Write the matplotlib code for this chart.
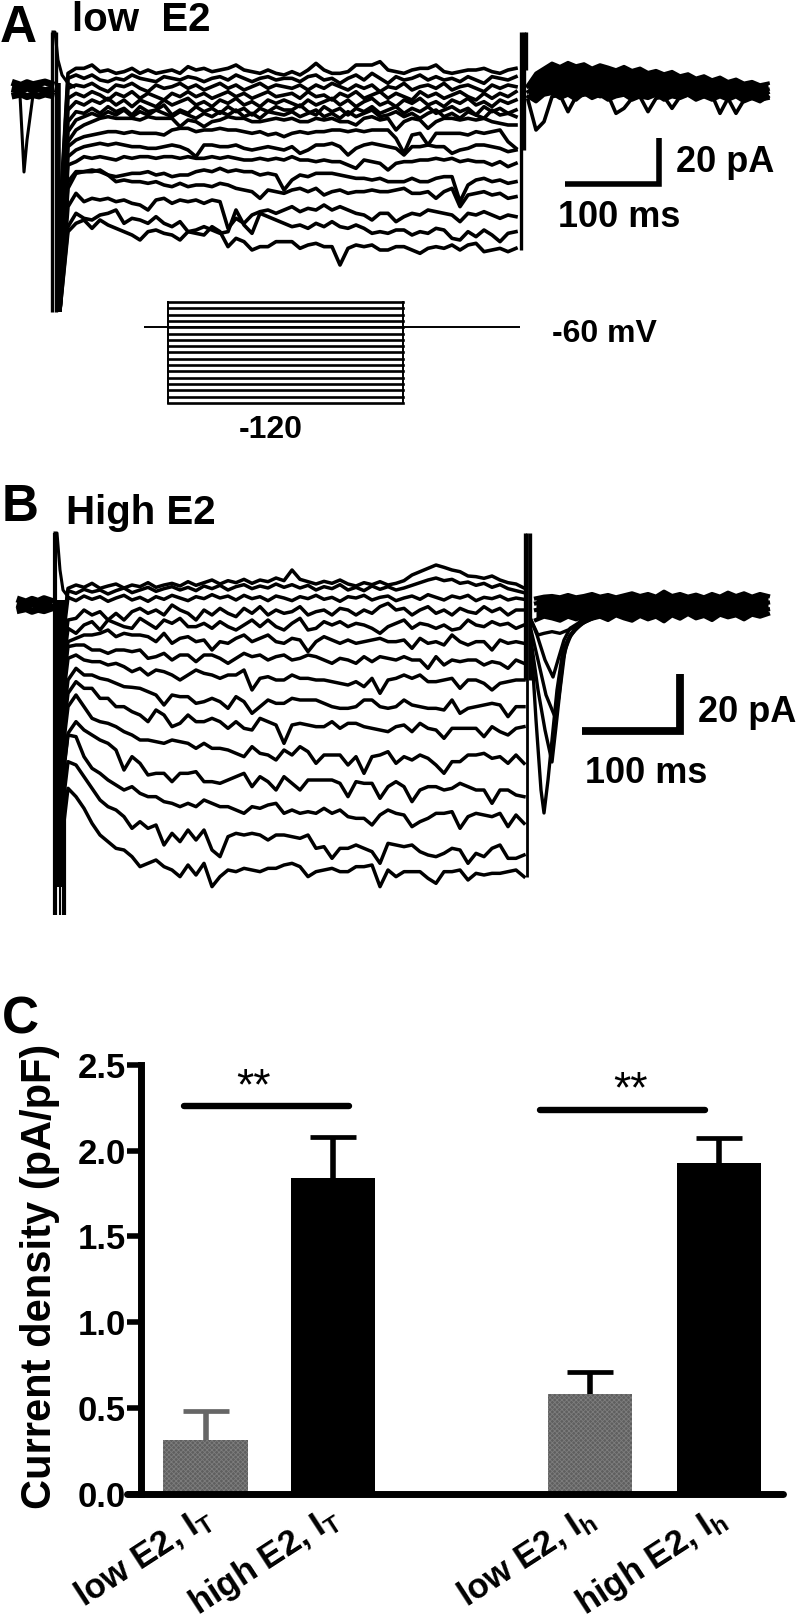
import matplotlib
matplotlib.use('Agg')
import matplotlib.pyplot as plt
import numpy as np

plt.rcParams['font.family'] = ['Liberation Sans', 'DejaVu Sans']
plt.rcParams['font.weight'] = 'bold'
plt.rcParams['mathtext.fontset'] = 'custom'
plt.rcParams['mathtext.bf'] = 'Liberation Sans:bold'
plt.rcParams['hatch.linewidth'] = 0.6

W, H = 797, 1619

# traces: x in image pixels, raw = 3 x pixels below the crop origin
# panel A, 16 sweeps
a_x = np.arange(68, 517, 8)
a_trace_01 = [70,55,55,45,65,60,70,65,55,70,60,70,65,60,70,50,60,55,65,60,55,45,60,65,70,60,70,75,
              65,75,60,40,60,70,70,65,45,45,45,35,60,65,70,60,55,55,45,65,70,65,60,60,55,65,70,60,55]
a_trace_02 = [85,75,85,75,90,95,85,90,75,85,90,95,80,85,90,80,85,95,85,80,90,75,85,95,85,80,90,85,
              85,95,80,75,90,85,100,85,75,90,70,85,100,80,90,85,75,90,80,90,85,95,80,90,100,80,85,90,80]
a_trace_03 = [115,105,110,100,115,125,105,110,100,115,125,105,115,110,100,115,105,120,110,100,115,105,120,110,100,115,105,110,
              115,105,120,105,115,100,110,120,105,115,105,125,110,115,100,120,110,105,115,100,120,110,105,115,125,105,115,105,110]
a_trace_04 = [145,130,140,125,135,150,130,140,125,145,130,140,150,130,140,125,140,130,145,135,125,140,130,145,135,125,140,135,
              130,145,125,140,135,150,130,140,125,145,135,125,145,130,140,150,125,140,130,145,135,125,140,150,130,145,130,140,125]
a_trace_05 = [180,155,165,150,160,145,165,150,170,150,160,170,150,165,155,145,165,155,170,150,160,145,165,155,170,150,160,150,
              160,170,150,165,155,145,165,150,170,155,145,165,155,170,150,160,145,165,155,170,150,160,145,165,155,170,150,160,150]
a_trace_06 = [215,185,190,175,190,170,185,175,195,170,185,180,165,195,180,190,170,185,175,190,170,185,175,195,175,185,170,180,
              180,165,185,195,170,185,175,195,175,185,170,190,180,170,190,175,185,170,190,180,170,185,175,195,170,185,175,190,180]
a_trace_07 = [245,210,200,190,200,185,195,180,200,185,195,180,190,200,185,195,205,190,200,185,195,180,200,190,205,185,190,195,
              185,200,190,180,200,190,205,185,200,190,180,200,195,185,200,190,205,190,180,200,190,205,185,195,205,180,195,190,200]
a_trace_08 = [275,240,225,215,205,200,205,205,205,210,200,205,205,205,230,210,215,230,215,210,200,205,205,215,215,210,205,210,
              205,215,215,205,210,205,215,215,225,205,200,210,205,240,215,205,210,235,215,205,205,210,205,210,205,215,220,225,225]
a_trace_09 = [290,270,260,255,250,245,245,250,245,250,250,250,255,240,235,235,245,240,240,235,240,240,245,250,245,255,250,260,
              250,245,250,245,245,240,240,245,240,245,240,240,240,265,310,255,250,285,250,250,250,250,255,245,250,245,240,275,295]
a_trace_10 = [320,300,290,285,280,285,280,285,290,290,295,295,290,285,290,300,320,285,285,290,290,285,295,300,295,290,295,300,
              290,310,300,285,285,280,290,315,295,285,280,285,290,295,315,290,290,285,290,290,310,300,295,285,285,290,295,305,300]
a_trace_11 = [345,335,320,325,320,325,330,320,325,320,320,325,320,320,325,320,325,325,320,325,320,325,330,330,325,330,325,330,
              320,330,330,335,330,335,335,345,355,330,335,340,360,340,335,335,330,330,325,330,325,335,330,335,335,345,335,350,340]
a_trace_12 = [395,365,365,360,365,375,380,375,370,370,365,375,370,380,375,375,365,360,365,355,365,360,365,365,375,370,375,420,
              390,375,380,370,370,370,375,380,385,385,390,385,395,395,395,385,395,395,385,380,380,455,405,390,385,395,390,400,395]
a_trace_13 = [415,370,365,365,360,375,395,390,395,395,400,395,405,410,400,410,405,405,410,400,405,415,420,425,445,420,425,430,
              420,415,425,415,435,425,420,430,425,425,420,425,425,420,415,430,430,425,445,425,415,470,435,430,425,435,430,445,440]
a_trace_14 = [470,430,455,445,450,445,455,450,460,465,480,450,445,460,450,455,450,460,450,455,535,505,520,495,485,480,490,480,
              470,485,475,480,465,480,470,480,490,495,510,490,490,515,500,490,495,480,485,490,495,515,490,495,485,495,505,495,500]
a_trace_15 = [530,490,505,510,495,490,480,520,505,510,520,500,520,530,515,545,540,530,540,550,545,480,525,550,490,500,510,520,
              530,525,535,520,530,515,530,535,525,535,550,545,550,540,540,555,545,550,535,540,565,570,545,560,540,555,575,550,545]
a_trace_16 = [545,520,510,535,510,525,535,545,555,570,545,540,550,555,570,545,550,555,530,545,590,565,575,600,590,590,575,575,
              575,595,585,580,590,590,645,595,585,590,585,600,600,590,590,600,610,595,590,595,585,600,585,580,605,600,595,605,595]
a_traces = [a_trace_01, a_trace_02, a_trace_03, a_trace_04, a_trace_05, a_trace_06, a_trace_07, a_trace_08,
            a_trace_09, a_trace_10, a_trace_11, a_trace_12, a_trace_13, a_trace_14, a_trace_15, a_trace_16]

a_pre_x = np.arange(15, 52, 6)
a_pre_1 = [100,106,98,104,100,96,102]
a_pre_2 = [118,122,114,120,116,122,118]
a_pre_3 = [136,132,140,134,138,132,136]
a_event_x = [20, 24, 27, 33]
a_event = [135, 366, 270, 135]
a_post_x = np.arange(528, 769, 8)
a_post_1 = [105,70,55,40,50,38,48,42,55,45,52,60,50,62,55,68,62,72,65,78,72,85,78,90,82,95,88,100,95,105,100]
a_post_2 = [110,90,80,85,75,90,80,95,85,100,90,105,95,110,100,112,105,118,108,115,110,120,112,118,110,122,115,120,112,124,118]
a_post_3 = [125,110,115,105,120,110,125,115,130,120,125,130,120,135,125,130,122,135,128,130,125,138,128,132,125,135,128,132,125,138,128]
a_post_4 = [150,240,215,140,135,185,140,135,130,140,135,190,175,145,140,185,145,140,175,140,135,145,140,135,190,145,190,150,145,150,145]
a_post_5 = [140,155,135,130,145,135,150,130,145,135,150,140,135,150,140,145,135,150,140,145,135,150,140,150,140,150,140,155,145,155,140]
a_on_x = [53, 55, 58, 62, 68, 74]
a_on = [-54, -54, 30, 75, 100, 110]

# command protocol of panel A
stim_t = [0, 26, 275, 400]
stim_levels = [-120,-115,-110,-105,-100,-95,-90,-85,-80,-75,-70,-65,-60,-55,-50,-45,-40]
stim_hold = -60

# panel B, 15 sweeps
b_x = np.arange(68, 525, 8)
b_trace_01 = [-35,-45,-38,-50,-35,-42,-48,-36,-45,-40,-52,-38,-45,-50,-42,-55,-44,-52,-60,-48,-58,-52,-62,-50,-60,-55,-66,-58,
              -90,-62,-55,-48,-56,-50,-60,-48,-42,-52,-46,-55,-45,-50,-58,-75,-85,-95,-105,-98,-90,-85,-72,-70,-65,-72,-60,-52,-48,-36]
b_trace_02 = [-28,-20,-32,-24,-30,-18,-28,-36,-22,-30,-38,-26,-34,-40,-30,-38,-28,-42,-34,-44,-30,-40,-46,-34,-42,-36,-48,-38,
              -46,-36,-44,-30,-40,-34,-46,-30,-38,-28,-42,-32,-40,-30,-36,-44,-52,-60,-66,-58,-62,-50,-54,-44,-50,-38,-46,-34,-28,-22]
b_trace_03 = [-8,2,-12,-2,-10,4,-6,-14,0,-8,4,-10,-2,-14,-6,2,-10,-4,-16,-6,-12,0,-14,-4,-10,2,-12,-6,
              2,-10,-4,-14,-2,-8,4,-10,-6,-14,0,-8,-12,2,-6,-12,-2,-16,-8,0,-12,-6,-14,2,-8,-4,-12,0,-6,-2]
b_trace_04 = [60,55,30,45,35,60,40,60,35,25,40,30,45,15,30,40,60,30,45,25,40,50,25,40,20,45,30,40,
              35,20,45,35,30,45,25,30,45,30,40,20,10,30,25,45,30,20,40,30,45,25,35,40,20,35,25,45,30,30]
b_trace_05 = [85,100,75,65,90,60,70,80,85,55,70,85,60,70,55,80,80,70,85,65,80,90,75,60,80,60,80,90,
              70,55,90,85,65,75,65,80,70,75,85,100,80,70,60,85,70,75,85,75,90,85,60,75,80,65,75,70,85,75]
b_trace_06 = [125,115,105,105,100,90,110,100,105,105,110,125,100,130,115,110,125,120,150,125,130,115,105,125,115,105,125,130,
              115,120,155,125,110,120,130,120,130,125,120,115,125,125,120,145,115,130,125,135,105,125,135,125,125,150,120,130,125,130]
b_trace_07 = [140,135,135,150,150,160,150,150,155,150,175,170,160,180,165,165,185,165,165,175,190,175,160,170,165,180,170,165,
              180,175,165,170,180,190,175,180,190,170,185,170,175,180,170,180,180,205,170,195,180,185,180,180,195,185,190,205,180,190]
b_trace_08 = [175,165,180,185,185,195,190,200,215,205,225,210,215,225,240,225,210,220,225,235,225,225,210,270,235,230,240,240,
              225,235,235,240,240,245,250,255,245,260,235,280,240,235,225,235,225,245,245,240,235,265,240,240,250,270,250,245,240,240]
b_trace_09 = [240,205,225,225,235,240,250,260,262,265,275,285,315,285,290,290,310,305,295,305,325,290,305,340,320,300,310,310,
              295,300,300,300,310,320,325,325,320,300,300,320,325,320,300,315,320,325,325,330,300,340,325,320,315,310,315,350,320,320]
b_trace_10 = [280,245,265,265,295,295,320,320,335,345,365,330,345,380,370,345,365,365,355,365,385,365,385,390,355,365,375,430,
              375,370,375,380,380,365,385,370,370,380,385,390,395,380,375,395,370,385,390,415,385,385,385,385,410,380,395,405,385,380]
b_trace_11 = [320,285,320,355,365,370,380,395,405,420,420,425,430,420,425,430,445,430,445,445,450,460,470,440,460,465,480,450,
              465,440,455,490,465,465,465,495,470,520,470,465,455,490,470,480,465,475,495,520,485,485,465,465,460,475,470,490,465,490]
b_trace_12 = [400,365,390,405,420,430,450,510,470,490,525,520,520,545,520,520,515,545,545,550,540,530,520,560,530,545,570,530,
              550,570,540,540,540,540,550,590,545,550,550,595,560,545,560,605,570,560,560,570,565,550,560,570,570,610,570,570,585,590]
b_trace_13 = [405,410,470,505,520,540,555,570,560,580,590,590,605,610,620,610,620,600,610,620,620,630,640,620,625,615,610,640,
              630,640,635,640,625,640,630,650,655,655,675,645,630,640,645,680,665,655,640,640,635,685,650,640,645,650,640,680,645,670]
b_trace_14 = [485,495,530,565,600,620,630,650,685,665,685,675,735,700,725,690,720,690,750,770,710,700,705,700,705,720,705,705,
              710,715,705,745,740,775,745,745,735,745,755,790,730,735,740,735,755,765,770,760,745,750,790,760,770,745,735,775,775,765]
b_trace_15 = [565,590,625,670,705,725,745,750,770,800,790,780,800,810,830,795,825,790,860,830,810,815,805,810,815,805,805,795,
              790,800,830,815,810,805,815,815,800,800,795,860,810,830,815,815,815,835,850,815,815,810,840,820,825,820,820,815,810,830]
b_traces = [b_trace_01, b_trace_02, b_trace_03, b_trace_04, b_trace_05, b_trace_06, b_trace_07, b_trace_08,
            b_trace_09, b_trace_10, b_trace_11, b_trace_12, b_trace_13, b_trace_14, b_trace_15]

b_pre_x = np.arange(20, 54, 6)
b_pre_1 = [0,6,-2,4,-4,2]
b_pre_2 = [15,20,12,18,14,20]
b_pre_3 = [30,26,34,28,32,26]
b_post_x = np.arange(536, 769, 8)
b_post_1 = [-5,-10,-12,-8,-15,-8,-12,-18,-10,-15,-8,-14,-20,-12,-18,-10,-25,-12,-18,-10,-16,-8,-18,-10,-22,-12,-20,-10,-18,-12]
b_post_2 = [10,5,12,8,15,5,10,18,6,12,4,14,8,2,15,6,12,3,10,16,5,12,8,14,4,10,15,6,12,8]
b_post_3 = [30,25,35,28,38,25,32,40,28,35,26,38,30,24,36,28,34,25,32,38,26,34,28,36,24,30,36,26,32,28]
b_post_4 = [60,50,55,62,50,58,48,56,50,60,46,55,62,48,58,50,64,46,56,42,55,48,60,44,52,46,58,44,50,42]
b_tail_1_x = [531,536,541,544,548,552,557,563,570,578,590,600]
b_tail_1 = [120,360,570,639,540,420,270,150,105,75,60,45]
b_tail_2_x = [531,538,545,552,556,560,565,571,580,592,604]
b_tail_2 = [120,270,390,486,380,270,150,105,75,55,45]
b_tail_3_x = [531,538,546,555,559,563,568,575,585,596]
b_tail_3 = [90,180,285,351,290,180,120,90,65,50]
b_tail_4_x = [531,537,545,553,558,564,570,578,588]
b_tail_4 = [60,105,180,231,180,120,85,70,55]
b_tail_5_x = [531,538,544,552,560,568,576,582,590]
b_tail_5 = [60,105,100,95,100,90,80,55,45]
b_on_x = [55, 57, 60, 63, 68]
b_on = [-201, -201, -90, -30, -10]

# panel C
bar_labels = ['low E2, I$_{\\mathbf{T}}$', 'high E2, I$_{\\mathbf{T}}$', 'low E2, I$_{\\mathbf{h}}$', 'high E2, I$_{\\mathbf{h}}$']
bar_means = [0.31, 1.84, 0.58, 1.93]
bar_sem = [0.17, 0.24, 0.13, 0.145]
bar_pos = [1, 2, 4.02, 5.03]
label_pos = [0.95, 1.95, 3.95, 4.98]
sig_spans = [(0.83, 2.13), (3.63, 4.92)]
sig_levels = [2.26, 2.235]
star_x = [1.38, 4.335]
star_y = [2.30, 2.28]


def panel_axes(fig, top, bottom, onset_px, base_px, px_ms, px_pa):
    ax = fig.add_axes([0, 1 - bottom / H, 1, (bottom - top) / H])
    ax.set_xlim(-onset_px / px_ms, (W - onset_px) / px_ms)
    ax.set_ylim((base_px - bottom) / px_pa, (base_px - top) / px_pa)
    ax.axis('off')
    return ax


def label(x, y, s, size):
    plt.figtext(x / W, 1 - y / H, s, fontsize=size, fontweight='bold', ha='left', va='baseline')


def converters(onset_px, base_px, origin_y, px_ms, px_pa):
    tm = lambda x: (np.asarray(x, dtype=float) - onset_px) / px_ms
    pa = lambda raw: (base_px - (origin_y + np.asarray(raw, dtype=float) / 3.0)) / px_pa
    return tm, pa


def plot_panel_a(fig):
    onset, base, origin, px_ms, px_pa = 53, 88, 50, 0.94, 2.3
    ax = panel_axes(fig, 0, 460, onset, base, px_ms, px_pa)
    tm, pa = converters(onset, base, origin, px_ms, px_pa)
    lw = 2.6
    for tr in a_traces:
        x0 = [60] + list(a_x)
        y0 = [min(tr[0] + 420, 780)] + tr
        ax.plot(tm(x0), pa(y0), color='k', lw=lw, solid_joinstyle='round')
    for pre in (a_pre_1, a_pre_2, a_pre_3):
        ax.plot(tm(a_pre_x), pa(pre), color='k', lw=5)
    ax.plot(tm(a_event_x), pa(a_event), color='k', lw=2.2)
    ax.fill_between(tm(a_post_x), pa(a_post_1), pa(a_post_5), color='k', lw=0)
    for post in (a_post_1, a_post_2, a_post_3, a_post_4, a_post_5):
        ax.plot(tm(a_post_x), pa(post), color='k', lw=2.6, solid_joinstyle='round')
    # capacity transients
    ax.plot(tm(a_on_x), pa(a_on), color='k', lw=2.2)
    ax.vlines(tm([52, 56]), pa(-54), pa(786), color='k', lw=2.4)
    ax.vlines(tm([58]), pa(100), pa(786), color='k', lw=4)
    ax.vlines(tm([521, 524, 526]), pa([600, 300, 60]), pa(-54), color='k', lw=2.4)
    # scale bar
    x1, y1 = tm(659), pa(402)
    ax.plot([x1 - 100, x1, x1], [y1, y1, y1 + 20], color='k', lw=4, solid_joinstyle='miter', solid_capstyle='butt')

    stim = fig.add_axes([144 / W, 1 - 403 / H, 376 / W, 101 / H])
    stim.set_xlim(0, 400)
    stim.set_ylim(stim_levels[0], stim_levels[-1])
    stim.axis('off')
    for v in stim_levels:
        stim.plot(stim_t[1:3], [v, v], color='k', lw=1.9, clip_on=False)
    stim.plot([stim_t[1]] * 2, [stim_levels[0], stim_levels[-1]], color='k', lw=1.4, clip_on=False)
    stim.plot([stim_t[2]] * 2, [stim_levels[0], stim_levels[-1]], color='k', lw=1.4, clip_on=False)
    stim.plot([stim_t[0], stim_t[3]], [stim_hold, stim_hold], color='k', lw=1.4)

    label(0, 42, 'A', 37)
    label(72, 31, 'low  E2', 29)
    label(676, 172, '20 pA', 26)
    label(558, 227, '100 ms', 26)
    label(552, 342, '-60 mV', 23)
    label(239, 438, '-120', 23)


def plot_panel_b(fig):
    onset, base, origin, px_ms, px_pa = 56, 605, 600, 0.98, 2.85
    ax = panel_axes(fig, 470, 940, onset, base, px_ms, px_pa)
    tm, pa = converters(onset, base, origin, px_ms, px_pa)
    lw = 2.5
    for tr in b_traces:
        x0 = [62] + list(b_x)
        y0 = [tr[0] + 150] + tr
        ax.plot(tm(x0), pa(y0), color='k', lw=lw, solid_joinstyle='round')
    for pre in (b_pre_1, b_pre_2, b_pre_3):
        ax.plot(tm(b_pre_x), pa(pre), color='k', lw=5)
    ax.fill_between(tm(b_post_x), pa(b_post_1), pa(b_post_4), color='k', lw=0)
    for post in (b_post_1, b_post_2, b_post_3, b_post_4):
        ax.plot(tm(b_post_x), pa(post), color='k', lw=3, solid_joinstyle='round')
    for tx, ty in ((b_tail_1_x, b_tail_1), (b_tail_2_x, b_tail_2), (b_tail_3_x, b_tail_3),
                   (b_tail_4_x, b_tail_4), (b_tail_5_x, b_tail_5)):
        ax.plot(tm(tx), pa(ty), color='k', lw=2.4)
    ax.plot(tm(b_on_x), pa(b_on), color='k', lw=2.2)
    ax.vlines(tm([55]), pa(-201), pa(945), color='k', lw=3)
    ax.vlines(tm([64]), pa(0), pa(945), color='k', lw=3)
    ax.vlines(tm([60]), pa(860), pa(945), color='k', lw=1.5)
    ax.vlines(tm([60]), pa(0), pa(860), color='k', lw=7)
    ax.vlines(tm([527]), pa(830), pa(-201), color='k', lw=2.0)
    ax.vlines(tm([530, 525]), pa([240, 240]), pa(-201), color='k', lw=2.4)
    x1, y1 = tm(680), pa(393)
    ax.plot([x1 - 100, x1, x1], [y1, y1, y1 + 20], color='k', lw=5.6, solid_joinstyle='miter', solid_capstyle='butt')

    label(2, 521, 'B', 37)
    label(66, 524, 'High E2', 29)
    label(698, 722, '20 pA', 26)
    label(585, 783, '100 ms', 26)


def plot_panel_c(fig):
    left, right, top, bottom = 127, 783, 1065, 1493.5
    ax = fig.add_axes([left / W, 1 - bottom / H, (right - left) / W, (bottom - top) / H])
    to_x = lambda px: 1 + (px - 205.5) / 127.3
    ax.set_xlim(to_x(left), to_x(right))
    ax.set_ylim(0, 2.5)
    ax.patch.set_visible(False)

    fills = ['#5f5f5f', 'k', '#5f5f5f', 'k']
    for i in range(4):
        ax.bar(bar_pos[i], bar_means[i], 0.66, color=fills[i], lw=0,
               hatch='xxxxxxx' if i in (0, 2) else None, edgecolor='#7d7d7d', zorder=2)
        err = ax.errorbar(bar_pos[i], bar_means[i], yerr=[[0], [bar_sem[i]]], color='#666666' if i == 0 else 'k',
                          elinewidth=4, capsize=16.5, capthick=3.4, zorder=1, clip_on=False)
        err[1][0].set_visible(False)
    for span, lev, sx, sy in zip(sig_spans, sig_levels, star_x, star_y):
        ax.plot(span, [lev, lev], color='k', lw=4.6, solid_capstyle='round')
        ax.text(sx, sy, '**', fontsize=32, fontweight='normal', ha='center', va='baseline')

    for s in ('top', 'right'):
        ax.spines[s].set_visible(False)
    ax.spines['left'].set_position(('data', to_x(141)))
    ax.spines['left'].set_bounds(0, 2.5)
    ax.spines['left'].set_linewidth(5)
    ax.spines['bottom'].set_linewidth(5)
    ax.spines['bottom'].set_capstyle('round')
    ax.set_yticks([0, 0.5, 1.0, 1.5, 2.0, 2.5])
    ax.set_yticklabels(['0.0', '0.5', '1.0', '1.5', '2.0', '2.5'], fontsize=25, fontweight='bold')
    ax.tick_params(axis='y', length=10, width=4, pad=1)
    ax.set_xticks(label_pos)
    ax.set_xticklabels(bar_labels, fontsize=25, fontweight='bold', rotation=33, ha='right', rotation_mode='anchor')
    ax.tick_params(axis='x', length=0, pad=4)
    fig.text(40 / W, 1 - 1276 / H, 'Current density (pA/pF)', fontsize=30, fontweight='bold', rotation=90,
             ha='center', va='center')
    label(2, 1033, 'C', 37)


def create_figure():
    fig = plt.figure(figsize=(W / 100, H / 100), dpi=100)
    plot_panel_a(fig)
    plot_panel_b(fig)
    plot_panel_c(fig)
    fig.savefig('out.png', dpi=100)
    plt.close(fig)


if __name__ == '__main__':
    create_figure()
